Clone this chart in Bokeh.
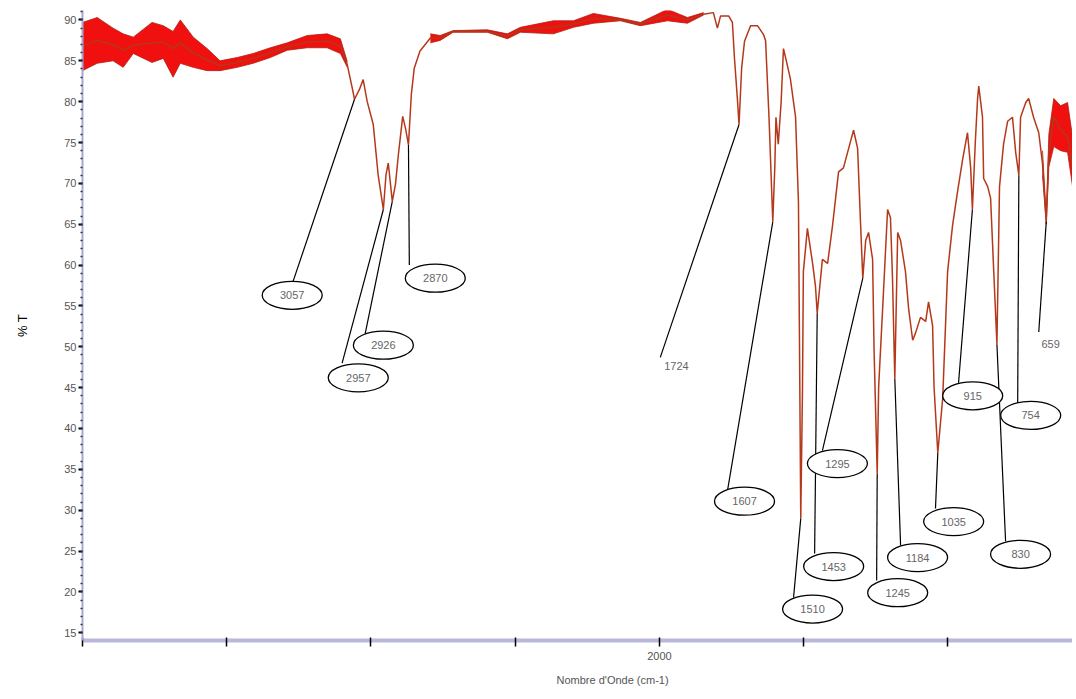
from bokeh.plotting import figure
from bokeh.models import Range1d, FixedTicker, SingleIntervalTicker, Title
from bokeh.core.properties import value
from bokeh.embed import file_html
from bokeh.resources import INLINE

# ---- spectrum (wavenumber cm-1, %T) ----
wn = [4000, 3949, 3894, 3859, 3824, 3759, 3720, 3686, 3661, 3616, 3568, 3523, 3464, 3408,
      3349, 3290, 3221, 3152, 3106, 3082, 3065, 3057, 3040, 3027, 3013, 2992, 2975, 2957,
      2948, 2940, 2926, 2915, 2905, 2890, 2880, 2870, 2860, 2850, 2830, 2794, 2760, 2715,
      2597, 2527, 2482, 2368, 2298, 2229, 2135, 2066, 1972, 1903, 1847, 1813, 1799, 1788,
      1760, 1747, 1740, 1730, 1724, 1715, 1705, 1684, 1660, 1639, 1632, 1620, 1607, 1600,
      1596, 1588, 1578, 1570, 1560, 1546, 1528, 1518, 1510, 1504, 1501, 1487, 1469, 1459,
      1453, 1435, 1417, 1400, 1379, 1362, 1337, 1327, 1313, 1303, 1295, 1285, 1275, 1261,
      1256, 1245, 1240, 1223, 1209, 1199, 1192, 1184, 1174, 1164, 1147, 1136, 1122, 1112,
      1095, 1077, 1067, 1053, 1048, 1035, 1018, 1001, 984, 966, 949, 932, 921, 915, 905,
      897, 893, 880, 876, 862, 852, 841, 830, 821, 807, 793, 776, 765, 754, 748, 730, 720,
      703, 685, 672, 659, 650, 633, 609, 585, 557]
trans = [86.8, 87.5, 87.0, 86.3, 86.9, 87.2, 87.3, 86.5, 87.2, 86.0, 85.1, 84.4, 84.8, 85.3,
         86.0, 86.7, 87.3, 87.4, 86.8, 84.5, 81.7, 80.3, 81.5, 82.7, 80.0, 77.2, 71.0, 66.8,
         71.0, 72.5, 67.8, 69.9, 73.5, 78.2, 76.7, 74.7, 80.9, 84.1, 86.2, 87.8, 87.8, 88.6,
         88.6, 88.0, 88.8, 89.1, 89.5, 90.2, 90.0, 89.5, 90.6, 90.0, 90.7, 90.9, 89.0, 90.5,
         90.5, 89.7, 85.4, 80.5, 77.2, 84.1, 87.4, 89.3, 89.3, 88.2, 87.5, 78.0, 65.3, 72.0,
         78.1, 74.8, 80.0, 86.5, 85.0, 82.8, 78.1, 67.7, 29.0, 45.0, 59.2, 64.5, 60.2, 57.4,
         54.1, 60.7, 60.2, 64.8, 71.4, 71.9, 75.2, 76.5, 74.3, 65.3, 58.4, 63.0, 64.0, 60.7,
         49.8, 34.5, 45.1, 56.9, 66.8, 65.8, 58.4, 46.1, 64.0, 63.0, 59.2, 54.6, 50.8, 51.7,
         53.6, 53.1, 55.5, 52.6, 45.1, 37.0, 43.7, 59.2, 64.8, 69.1, 72.9, 76.2, 71.9, 66.8, 75.0,
         80.4, 81.9, 78.1, 70.6, 69.6, 68.2, 59.2, 50.3, 69.6, 74.8, 77.6, 78.1, 73.8, 71.0, 78.1,
         79.9, 80.4, 78.1, 76.2, 72.4, 65.3, 73.8, 78.1, 76.6, 75.7, 69.6]

# ---- noise envelopes ----
noise1_wn = [4000, 3949, 3894, 3859, 3824, 3759, 3720, 3686, 3661, 3616, 3568, 3523, 3464,
             3408, 3349, 3290, 3221, 3152, 3106, 3082]
noise1_hi = [89.7, 90.3, 89.0, 88.3, 87.9, 89.7, 89.3, 88.6, 90.0, 87.9, 86.5, 85.0, 85.4,
             85.9, 86.6, 87.2, 88.1, 88.3, 87.7, 84.9]
noise1_lo = [83.8, 84.7, 85.0, 84.2, 85.9, 84.8, 85.3, 83.0, 84.7, 84.2, 83.8, 83.8, 84.2,
             84.7, 85.4, 86.3, 86.6, 86.6, 85.9, 84.2]
noise2_wn = [2794, 2760, 2715, 2597, 2527, 2482, 2368, 2298, 2229, 2135, 2066, 1972, 1903, 1847]
noise2_hi = [88.3, 88.1, 88.7, 88.8, 88.3, 89.1, 89.9, 89.9, 90.8, 90.2, 89.7, 91.3, 90.3, 90.9]
noise2_lo = [87.2, 87.5, 88.5, 88.5, 87.7, 88.5, 88.3, 89.1, 89.6, 89.9, 89.3, 89.9, 89.6, 90.6]
noise3_wn = [672, 659, 650, 633, 609, 585, 557]
noise3_hi = [74.0, 66.0, 76.0, 80.4, 79.5, 79.9, 73.0]
noise3_lo = [71.0, 65.0, 72.0, 74.5, 74.0, 73.8, 67.0]

# ---- peak annotations ----
peak_labels = ["3057", "2957", "2926", "2870", "1607", "1510", "1453", "1295", "1245",
               "1184", "1035", "915", "830", "754"]
peak_wn = [3057, 2957, 2926, 2870, 1607, 1510, 1453, 1295, 1245, 1184, 1035, 915, 830, 754]
peak_t = [80.3, 66.8, 67.8, 74.7, 65.3, 29.0, 54.1, 58.4, 34.5, 46.1, 37.0, 66.8, 50.3, 71.0]
box_wn = [3273, 3044, 2957, 2777, 1705, 1469, 1396, 1383, 1174, 1105, 980, 914, 748, 713]
box_t = [56.3, 46.2, 50.2, 58.4, 31.1, 17.9, 23.1, 35.7, 19.9, 24.2, 28.6, 44.0, 24.6, 41.6]
lead_wn = [3270, 3100, 3020, 2867, 1764, 1535, 1462, 1435, 1247, 1164, 1043, 963, 800, 758]
lead_t = [58.0, 48.0, 51.6, 60.0, 32.4, 19.3, 24.7, 37.3, 21.4, 25.7, 30.2, 45.6, 26.2, 43.1]
free_labels = ["1724", "659"]
free_wn = [1724, 659]
free_t = [77.2, 65.3]
free_text_wn = [1941, 644]
free_text_t = [47.6, 50.4]
free_lead_wn = [1997, 685]
free_lead_t = [48.7, 51.8]

x_ticks = [4000, 3500, 3000, 2500, 2000, 1500, 1000]
x_tick_text = ["", "", "", "", "2000", "", ""]

FONT = "Liberation Sans"

p = figure(width=1072, height=696, x_range=Range1d(4000, 568), y_range=Range1d(14.05, 91.16),
           output_backend="svg", toolbar_location=None,
           min_border_left=82, min_border_right=0, min_border_top=10, min_border_bottom=56)
p.background_fill_color = "white"
p.border_fill_color = "white"
p.outline_line_color = None
p.xgrid.visible = False
p.ygrid.visible = False

# noise bands
for nw, nh, nl in [(noise1_wn, noise1_hi, noise1_lo), (noise2_wn, noise2_hi, noise2_lo),
                   (noise3_wn, noise3_hi, noise3_lo)]:
    p.varea(x=nw, y1=nl, y2=nh, fill_color="#f01010", fill_alpha=1.0)
    p.line(nw, nh, line_color="#b02010", line_width=0.8)
    p.line(nw, nl, line_color="#b02010", line_width=0.8)

# spectrum line
p.line(wn, trans, line_color="#b4381a", line_width=1.5)

# leader lines
p.segment(x0=peak_wn, y0=peak_t, x1=lead_wn, y1=lead_t, line_color="black", line_width=1.2)
p.segment(x0=free_wn, y0=free_t, x1=free_lead_wn, y1=free_lead_t, line_color="black", line_width=1.2)

# ellipses with labels
p.ellipse(x=box_wn, y=box_t, width=60, height=28, width_units="screen", height_units="screen",
          fill_color="white", line_color="black", line_width=1.3)
p.text(x=box_wn, y=box_t, text=peak_labels, text_align="center", text_baseline="middle",
       text_font=value(FONT), text_font_size="11px", text_color="#666666")
p.text(x=free_text_wn, y=free_text_t, text=free_labels, text_align="center", text_baseline="middle",
       text_font=value(FONT), text_font_size="11px", text_color="#666666")

# x axis
xa = p.xaxis[0]
xa.ticker = FixedTicker(ticks=x_ticks)
xa.major_label_overrides = {t: s for t, s in zip(x_ticks, x_tick_text)}
xa.axis_line_color = "#b8b8dc"
xa.axis_line_width = 4
xa.major_tick_line_color = "black"
xa.major_tick_line_width = 1.5
xa.major_tick_in = 3
xa.major_tick_out = 6
xa.minor_tick_line_color = None
xa.major_label_standoff = 5
xa.major_label_text_font = FONT
xa.major_label_text_font_size = "11px"
xa.major_label_text_color = "#555555"

# y axis
ya = p.yaxis[0]
ya.ticker = SingleIntervalTicker(interval=5, num_minor_ticks=5)
ya.axis_line_color = "#a8a8d8"
ya.axis_line_width = 2
ya.major_tick_line_color = "black"
ya.major_tick_line_width = 2
ya.major_tick_in = 0
ya.major_tick_out = 4
ya.minor_tick_line_color = "#333333"
ya.minor_tick_line_width = 1.5
ya.minor_tick_in = 0
ya.minor_tick_out = 2
ya.major_label_standoff = 2
ya.major_label_text_font = FONT
ya.major_label_text_font_size = "11px"
ya.major_label_text_color = "#555555"
ya.axis_label = "% T"
ya.axis_label_text_font = FONT
ya.axis_label_text_font_style = "normal"
ya.axis_label_text_font_size = "13px"
ya.axis_label_text_color = "black"
ya.axis_label_standoff = 31

# x axis title, placed off-centre like the reference
p.add_layout(Title(text="Nombre d'Onde (cm-1)", align="left", offset=474, standoff=18,
                   text_font=FONT, text_font_size="11px", text_font_style="normal",
                   text_color="#555555"), "below")

open("out.html", "w").write(file_html(p, INLINE))
